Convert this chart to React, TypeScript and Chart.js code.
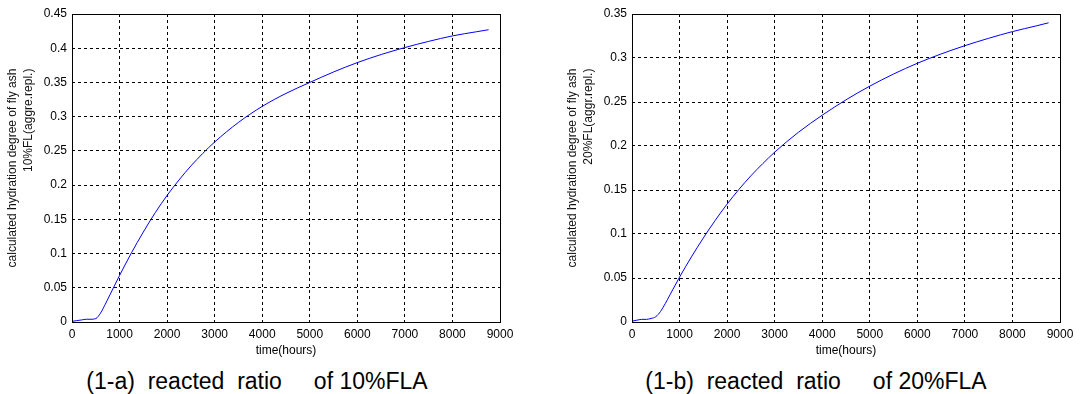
import React, { useEffect, useRef } from "react";
import { Chart, registerables } from "chart.js";

Chart.register(...registerables);

// time in hours
const hours = [0, 100, 200, 300, 400, 500, 600, 700, 800, 900, 1000, 1250, 1500, 1750, 2000, 2250, 2500, 2750, 3000, 3500, 4000, 4500, 5000, 5500, 6000, 6500, 7000, 7500, 8000, 8500, 8760];

// calculated hydration degree of fly ash, 10%FL (aggre.repl.)
const ratio10 = [0.001, 0.002, 0.003, 0.004, 0.004, 0.005, 0.013, 0.026, 0.040, 0.054, 0.068, 0.101, 0.1315, 0.1597, 0.185, 0.2075, 0.228, 0.2463, 0.263, 0.2916, 0.315, 0.334, 0.350, 0.3653, 0.379, 0.3908, 0.401, 0.410, 0.418, 0.424, 0.427];

// calculated hydration degree of fly ash, 20%FL (aggr.repl.)
const ratio20 = [0.001, 0.002, 0.003, 0.003, 0.004, 0.006, 0.012, 0.021, 0.031, 0.041, 0.051, 0.074, 0.0955, 0.1155, 0.134, 0.1508, 0.1661, 0.180, 0.193, 0.2156, 0.235, 0.2525, 0.268, 0.2818, 0.294, 0.3046, 0.314, 0.3224, 0.330, 0.3365, 0.340];

const xTicks = [0, 1000, 2000, 3000, 4000, 5000, 6000, 7000, 8000, 9000];
const yTicksA = [0, 0.05, 0.1, 0.15, 0.2, 0.25, 0.3, 0.35, 0.4, 0.45];
const yTicksB = [0, 0.05, 0.1, 0.15, 0.2, 0.25, 0.3, 0.35];

const titleA = ["calculated hydration degree of fly ash", "10%FL(aggre.repl.)"];
const titleB = ["calculated hydration degree of fly ash", "20%FL(aggr.repl.)"];
const xTitle = "time(hours)";
const captionA = "(1-a)  reacted  ratio     of 10%FLA";
const captionB = "(1-b)  reacted  ratio     of 20%FLA";

const FONT = "'Liberation Sans', Arial, sans-serif";

const framePlugin = {
  id: "frameAndYTitle",
  afterDraw(chart: any) {
    const { ctx, chartArea } = chart;
    const { left, top, right, bottom } = chartArea;
    ctx.save();
    ctx.setLineDash([]);
    ctx.strokeStyle = "#000";
    ctx.lineWidth = 1;
    ctx.strokeRect(Math.round(left) + 0.5, Math.round(top) + 0.5, Math.round(right - left), Math.round(bottom - top));
    // y-axis title, two lines, second line end-aligned with first
    const lines: string[] = chart.options.plugins.yTitleLines || [];
    ctx.font = "12px " + FONT;
    ctx.fillStyle = "#111";
    ctx.textBaseline = "middle";
    ctx.textAlign = "right";
    const w1 = ctx.measureText(lines[0] || "").width;
    const endY = (top + bottom) / 2 - w1 / 2;
    const xs = [13, 29];
    lines.forEach((ln, i) => {
      ctx.save();
      ctx.translate(xs[i], endY);
      ctx.rotate(-Math.PI / 2);
      ctx.fillText(ln, 0, 0);
      ctx.restore();
    });
    ctx.restore();
  },
};

function makeConfig(values: number[], yTicks: number[], yMax: number, lines: string[]) {
  return {
    type: "line" as const,
    data: {
      datasets: [
        {
          data: hours.map((h, i) => ({ x: h, y: values[i] })),
          borderColor: "#0000ff",
          borderWidth: 1,
          pointRadius: 0,
          cubicInterpolationMode: "monotone" as const,
          fill: false,
        },
      ],
    },
    options: {
      responsive: false,
      animation: false as const,
      layout: { padding: { top: 14, right: 40, bottom: 0, left: 0 } },
      plugins: {
        legend: { display: false },
        tooltip: { enabled: false },
        yTitleLines: lines,
      } as any,
      scales: {
        x: {
          type: "linear" as const,
          min: 0,
          max: 9000,
          afterBuildTicks: (s: any) => {
            s.ticks = xTicks.map((v) => ({ value: v }));
          },
          afterFit: (s: any) => {
            s.height = 40;
          },
          grid: { color: "#000", lineWidth: 1, drawTicks: false },
          border: { display: false, dash: [3, 3] },
          ticks: {
            padding: 5,
            maxRotation: 0,
            autoSkip: false,
            color: "#000",
            font: { family: FONT, size: 12 },
            callback: (v: any) => String(v),
          },
          title: {
            display: true,
            text: xTitle,
            color: "#000",
            font: { family: FONT, size: 12 },
            padding: { top: 0, bottom: 4 },
          },
        },
        y: {
          type: "linear" as const,
          min: 0,
          max: yMax,
          afterBuildTicks: (s: any) => {
            s.ticks = yTicks.map((v) => ({ value: v }));
          },
          afterFit: (s: any) => {
            s.width = 72;
          },
          grid: { color: "#000", lineWidth: 1, drawTicks: false },
          border: { display: false, dash: [3, 3] },
          ticks: {
            padding: 5,
            autoSkip: false,
            color: "#000",
            font: { family: FONT, size: 12 },
            callback: (v: any) => String(+Number(v).toFixed(2)),
          },
        },
      },
    },
    plugins: [framePlugin],
  };
}

function Panel(props: { left: number; width: number; rightPad: number; values: number[]; yTicks: number[]; yMax: number; lines: string[] }) {
  const ref = useRef<HTMLCanvasElement | null>(null);
  useEffect(() => {
    if (!ref.current) return;
    const cfg: any = makeConfig(props.values, props.yTicks, props.yMax, props.lines);
    cfg.options.layout.padding.right = props.rightPad;
    const chart = new Chart(ref.current, cfg);
    return () => chart.destroy();
  }, []);
  return (
    <canvas
      ref={ref}
      width={props.width}
      height={362}
      style={{ position: "absolute", left: props.left, top: 0, width: props.width, height: 362, display: "block" }}
    />
  );
}

const captionStyle = (center: number): React.CSSProperties => ({
  position: "absolute",
  left: center - 250,
  width: 500,
  top: 368,
  textAlign: "center",
  fontFamily: FONT,
  fontSize: 23,
  lineHeight: "26px",
  whiteSpace: "pre",
  color: "#000",
});

export default function App() {
  return (
    <div style={{ position: "fixed", left: 0, top: 0, width: 1081, height: 394, background: "#fff", overflow: "hidden" }}>
      <Panel left={0} width={540} rightPad={40} values={ratio10} yTicks={yTicksA} yMax={0.45} lines={titleA} />
      <Panel left={560} width={521} rightPad={21} values={ratio20} yTicks={yTicksB} yMax={0.35} lines={titleB} />
      <div style={captionStyle(257)}>{captionA}</div>
      <div style={captionStyle(816)}>{captionB}</div>
    </div>
  );
}
